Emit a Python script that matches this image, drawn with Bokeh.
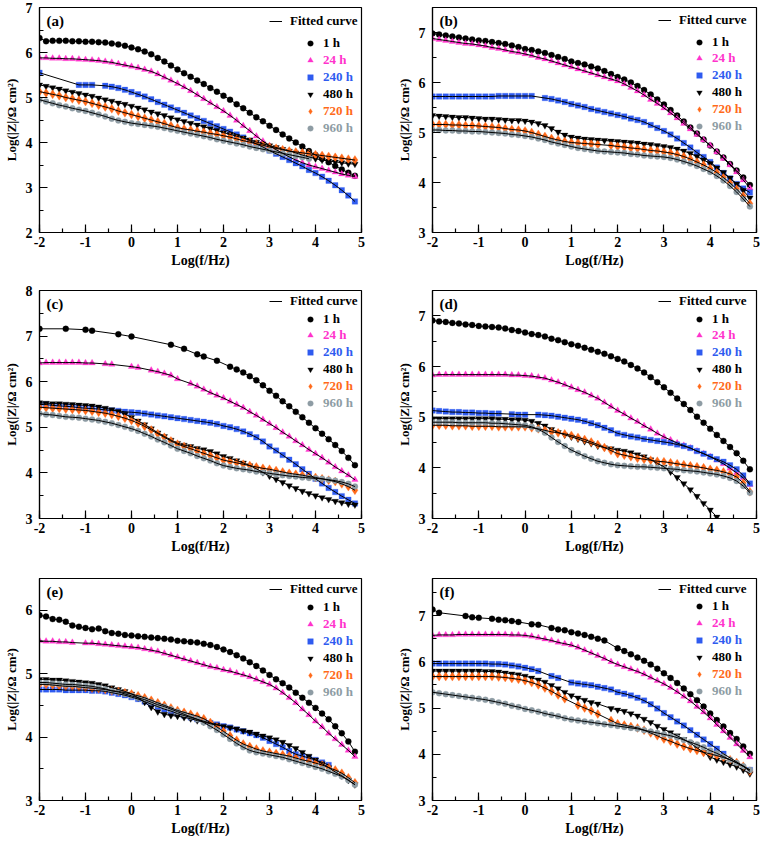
import numpy as np
from bokeh.plotting import figure
from bokeh.layouts import column, row
from bokeh.models import Legend, LegendItem, Label, SingleIntervalTicker, Range1d
from bokeh.embed import file_html
from bokeh.resources import INLINE

# log10 frequency grid (7 points per decade)
LOGF = [-2.0, -1.857, -1.714, -1.571, -1.429, -1.286, -1.143,
        -1.0, -0.857, -0.714, -0.571, -0.429, -0.286, -0.143,
        0.0, 0.143, 0.286, 0.429, 0.571, 0.714, 0.857,
        1.0, 1.143, 1.286, 1.429, 1.571, 1.714, 1.857,
        2.0, 2.143, 2.286, 2.429, 2.571, 2.714, 2.857,
        3.0, 3.143, 3.286, 3.429, 3.571, 3.714, 3.857,
        4.0, 4.143, 4.286, 4.429, 4.571, 4.714, 4.857]

SERIES = ["1 h", "24 h", "240 h", "480 h", "720 h", "960 h"]
COLORS = ["#000000", "#FF33CC", "#2F5BF0", "#000000", "#FF6A1A", "#8E9CA4"]
MARKERS = ["circle", "triangle", "square", "inverted_triangle", "diamond", "circle"]
SIZES = [6, 6.5, 5.5, 6.5, 9, 6]

# ---------------- panel (a) ----------------
A_1H = [6.32, 6.25, 6.26, 6.26, 6.26, 6.25, 6.25,
        6.24, 6.24, 6.23, 6.22, 6.20, 6.18, 6.15,
        6.11, 6.07, 6.02, 5.96, 5.88, 5.80, 5.71,
        5.62, 5.54, 5.46, 5.38, 5.30, 5.21, 5.13,
        5.04, 4.95, 4.85, 4.76, 4.66, 4.56, 4.47,
        4.37, 4.28, 4.18, 4.09, 4.00, 3.91, 3.81,
        3.72, 3.64, 3.56, 3.48, 3.40, 3.33, 3.26]
A_24H = [5.88, 5.88, 5.87, 5.87, 5.86, 5.86, 5.85,
         5.84, 5.83, 5.82, 5.80, 5.78, 5.75, 5.72,
         5.69, 5.66, 5.62, 5.58, 5.52, 5.45, 5.38,
         5.31, 5.23, 5.15, 5.06, 4.97, 4.88, 4.79,
         4.70, 4.60, 4.49, 4.37, 4.26, 4.14, 4.03,
         3.93, 3.84, 3.76, 3.68, 3.61, 3.55, 3.50,
         3.46, 3.42, 3.38, 3.34, 3.30, 3.27, 3.24]
A_240H = [5.55, None, None, None, None, None, 5.28,
          5.28, 5.28, None, 5.26, 5.24, 5.21, 5.17,
          5.12, 5.07, 5.02, 4.96, 4.90, 4.84, 4.78,
          4.72, 4.66, 4.60, 4.54, 4.48, 4.42, 4.36,
          4.30, 4.24, 4.18, 4.11, 4.04, 3.97, 3.90,
          3.82, 3.75, 3.68, 3.61, 3.54, 3.47, 3.39,
          3.32, 3.24, 3.15, 3.05, 2.94, 2.82, 2.69]
A_480H = [5.28, 5.25, 5.22, 5.19, 5.15, 5.12, 5.09,
          5.06, 5.03, 4.99, 4.95, 4.92, 4.88, 4.85,
          4.81, 4.77, 4.73, 4.68, 4.64, 4.60, 4.55,
          4.51, 4.47, 4.43, 4.39, 4.35, 4.31, 4.27,
          4.22, 4.18, 4.14, 4.10, 4.06, 4.01, 3.97,
          3.93, 3.89, 3.85, 3.81, 3.77, 3.72, 3.68,
          3.64, 3.61, 3.59, 3.57, 3.55, 3.53, 3.52]
A_720H = [5.13, 5.10, 5.07, 5.04, 5.00, 4.97, 4.94,
          4.91, 4.87, 4.83, 4.79, 4.75, 4.70, 4.66,
          4.62, 4.58, 4.54, 4.50, 4.46, 4.42, 4.37,
          4.33, 4.30, 4.28, 4.25, 4.23, 4.20, 4.18,
          4.15, 4.12, 4.08, 4.04, 4.01, 3.97, 3.94,
          3.90, 3.87, 3.84, 3.81, 3.79, 3.77, 3.75,
          3.73, 3.71, 3.69, 3.67, 3.65, 3.63, 3.61]
A_960H = [4.95, 4.91, 4.87, 4.83, 4.80, 4.76, 4.73,
          4.70, 4.66, 4.62, 4.58, 4.53, 4.49, 4.46,
          4.43, 4.41, 4.39, 4.37, 4.35, 4.32, 4.29,
          4.26, 4.23, 4.20, 4.17, 4.14, 4.11, 4.07,
          4.04, 4.01, 3.98, 3.95, 3.91, 3.88, 3.85,
          3.82, 3.79, 3.76, 3.73, 3.70, 3.67, 3.64,
          None, None, None, None, None, None, None]

# ---------------- panel (b) ----------------
B_1H = [6.98, 6.96, 6.94, 6.92, 6.90, 6.88, 6.86,
        6.84, 6.83, 6.81, 6.79, 6.77, 6.74, 6.71,
        6.67, 6.65, 6.62, 6.59, 6.55, 6.51, 6.47,
        6.42, 6.39, 6.36, 6.32, 6.28, 6.23, 6.17,
        6.11, 6.06, 6.00, 5.93, 5.85, 5.76, 5.66,
        5.56, 5.45, 5.34, 5.22, 5.10, 4.98, 4.86,
        4.74, 4.62, 4.50, 4.37, 4.24, 4.10, 3.95]
B_24H = [6.88, 6.86, 6.84, 6.82, 6.80, 6.78, 6.77,
         6.75, 6.73, 6.70, 6.68, 6.65, 6.62, 6.60,
         6.57, 6.54, 6.50, 6.47, 6.43, 6.39, 6.35,
         6.31, 6.27, 6.23, 6.19, 6.15, 6.11, 6.07,
         6.03, 5.97, 5.90, 5.83, 5.75, 5.66, 5.58,
         5.49, 5.39, 5.29, 5.18, 5.07, 4.96, 4.85,
         4.74, 4.61, 4.48, 4.35, 4.21, 4.05, 3.89]
B_240H = [5.72, 5.72, 5.72, 5.72, 5.72, 5.72, 5.72,
          5.72, 5.72, 5.72, 5.73, 5.73, 5.73, 5.73,
          5.73, 5.73, None, 5.69, 5.67, 5.64, 5.61,
          5.57, 5.54, 5.51, 5.47, 5.44, 5.41, 5.38,
          5.35, 5.32, 5.28, 5.25, 5.21, 5.15, 5.09,
          5.03, 4.96, 4.88, 4.79, 4.70, 4.60, 4.51,
          4.41, 4.30, 4.19, 4.08, 3.97, 3.88, 3.80]
B_480H = [5.34, 5.33, 5.32, 5.31, 5.30, 5.30, 5.29,
          5.28, 5.27, 5.27, 5.26, 5.25, 5.24, 5.24,
          5.23, 5.21, 5.18, 5.14, 5.08, 5.01, 4.95,
          4.91, 4.89, 4.87, 4.86, 4.85, 4.84, 4.83,
          4.82, 4.81, 4.80, 4.79, 4.77, 4.76, 4.74,
          4.72, 4.70, 4.67, 4.63, 4.58, 4.52, 4.45,
          4.38, 4.29, 4.20, 4.09, 3.97, 3.84, 3.69]
B_720H = [5.16, 5.16, 5.16, 5.15, 5.15, 5.14, 5.14,
          5.13, 5.12, 5.11, 5.10, 5.08, 5.06, 5.05,
          5.03, 5.00, 4.96, 4.92, 4.88, 4.85, 4.82,
          4.80, 4.79, 4.78, 4.77, 4.76, None, 4.74,
          4.72, 4.71, 4.69, 4.68, 4.66, 4.64, 4.63,
          4.61, 4.59, 4.56, 4.52, 4.47, 4.41, 4.35,
          4.28, 4.20, 4.10, 3.99, 3.87, 3.73, 3.58]
B_960H = [5.05, 5.05, 5.04, 5.04, 5.03, 5.03, 5.02,
          5.02, 5.01, 5.00, 4.99, 4.98, 4.96, 4.95,
          4.93, 4.91, 4.88, 4.85, 4.81, 4.78, 4.75,
          4.72, 4.69, 4.67, 4.65, 4.63, 4.62, 4.61,
          4.60, 4.59, 4.57, 4.56, 4.54, 4.53, 4.52,
          4.51, 4.49, 4.46, 4.42, 4.38, 4.33, 4.27,
          4.21, 4.13, 4.04, 3.93, 3.81, 3.67, 3.52]

# ---------------- panel (c) ----------------
C_1H = [7.16, None, None, None, 7.16, None, None,
        7.14, 7.12, None, None, None, 7.04, None,
        6.99, None, None, None, None, None, 6.81,
        None, 6.72, None, 6.60, 6.55, None, 6.46,
        None, 6.33, 6.27, 6.20, 6.12, 6.03, 5.92,
        5.80, 5.69, 5.57, 5.46, 5.34, 5.22, 5.10,
        4.98, 4.86, 4.74, 4.61, 4.48, 4.33, 4.17]
C_24H = [6.41, 6.42, 6.42, 6.42, 6.42, 6.42, 6.42,
         6.41, 6.41, None, 6.39, 6.38, None, None,
         6.33, 6.31, None, 6.25, 6.22, 6.18, 6.14,
         6.06, None, 5.96, 5.90, 5.83, 5.76, 5.70,
         5.64, 5.57, 5.50, 5.43, 5.34, 5.26, 5.17,
         5.08, 4.99, 4.89, 4.80, 4.70, 4.61, 4.51,
         4.42, 4.33, 4.23, 4.13, 4.04, 3.95, 3.85]
C_240H = [5.51, 5.50, 5.48, 5.47, 5.46, 5.45, 5.43,
          5.42, 5.41, 5.40, 5.38, 5.37, 5.36, 5.34,
          5.33, 5.32, 5.30, 5.28, 5.26, 5.24, 5.22,
          5.20, 5.18, 5.16, 5.14, 5.12, 5.10, 5.07,
          5.03, 5.00, 4.96, 4.91, 4.85, 4.78, 4.69,
          4.58, 4.49, 4.39, 4.29, 4.19, 4.08, 3.98,
          3.87, 3.77, 3.67, 3.58, 3.49, 3.41, 3.33]
C_480H = [5.54, 5.53, 5.52, 5.52, 5.51, 5.50, 5.49,
          5.48, 5.47, 5.45, 5.42, 5.39, 5.35, 5.29,
          5.22, 5.14, 5.06, 4.97, 4.88, 4.80, 4.72,
          4.65, 4.61, 4.58, 4.54, 4.51, 4.47, 4.42,
          4.36, 4.32, 4.27, 4.22, 4.16, 4.09, 4.01,
          3.93, 3.86, 3.79, 3.72, 3.66, 3.60, 3.55,
          3.50, 3.46, 3.42, 3.38, 3.35, 3.32, 3.30]
C_720H = [5.44, 5.43, 5.42, 5.41, 5.40, 5.39, 5.38,
          5.37, 5.35, 5.33, 5.31, 5.28, 5.24, 5.20,
          5.15, 5.09, 5.02, 4.94, 4.86, 4.78, 4.70,
          4.63, 4.58, 4.53, 4.48, 4.43, 4.38, 4.33,
          4.28, 4.25, 4.22, 4.19, 4.16, 4.13, 4.10,
          4.08, 4.05, 4.02, 3.99, 3.97, 3.95, 3.92,
          3.90, 3.87, 3.84, 3.81, 3.76, 3.70, 3.62]
C_960H = [5.30, 5.28, 5.27, 5.25, 5.23, 5.22, 5.21,
          5.19, 5.17, 5.15, 5.12, 5.09, 5.05, 5.01,
          4.97, 4.92, 4.86, 4.80, 4.73, 4.67, 4.60,
          4.53, 4.48, 4.43, 4.37, 4.32, 4.27, 4.21,
          4.16, 4.13, 4.10, 4.08, 4.06, 4.03, 4.01,
          3.99, 3.97, 3.95, 3.93, 3.92, 3.90, 3.89,
          3.88, 3.87, 3.85, 3.83, 3.80, 3.76, 3.70]

# ---------------- panel (d) ----------------
D_1H = [6.91, 6.89, 6.88, 6.86, 6.85, 6.83, 6.82,
        6.80, 6.79, 6.78, 6.77, 6.75, 6.72, 6.70,
        6.67, 6.64, 6.62, 6.59, 6.55, 6.52, 6.48,
        6.44, 6.41, 6.37, 6.33, 6.29, 6.25, 6.20,
        6.15, 6.10, 6.03, 5.96, 5.88, 5.79, 5.69,
        5.59, 5.48, 5.37, 5.26, 5.14, 5.01, 4.89,
        4.77, 4.65, 4.53, 4.41, 4.29, 4.14, 3.97]
D_24H = [5.83, 5.84, 5.84, 5.84, 5.84, 5.84, 5.84,
         5.84, 5.84, 5.84, 5.84, 5.84, 5.83, 5.83,
         5.82, 5.81, 5.79, 5.77, 5.73, 5.69, 5.64,
         5.59, 5.54, 5.49, 5.43, 5.37, 5.29, 5.21,
         5.13, 5.06, 4.98, 4.91, 4.83, 4.76, 4.68,
         4.61, 4.55, 4.49, 4.44, 4.39, 4.33, 4.28,
         4.22, 4.15, 4.08, 3.99, 3.90, 3.80, 3.67]
D_240H = [5.13, 5.12, 5.11, 5.10, 5.10, 5.09, 5.09,
          5.08, 5.08, 5.07, 5.07, None, 5.06, 5.05,
          5.05, None, 5.05, 5.04, 5.03, 5.01, 4.99,
          4.97, 4.95, 4.92, 4.88, 4.84, 4.79, 4.74,
          4.68, 4.65, 4.62, 4.60, 4.57, 4.55, 4.53,
          4.51, 4.49, 4.46, 4.43, 4.39, 4.33, 4.28,
          4.22, 4.17, 4.12, 4.05, 3.97, 3.85, 3.69]
D_480H = [4.97, 4.97, 4.97, 4.97, 4.97, 4.97, 4.97,
          4.97, 4.97, 4.97, 4.96, 4.96, 4.95, 4.95,
          4.94, 4.92, 4.88, 4.83, 4.76, 4.70, 4.65,
          4.61, 4.57, 4.52, 4.48, 4.43, 4.40, 4.38,
          4.35, 4.33, 4.30, 4.26, 4.22, 4.16, 4.09,
          4.02, 3.92, 3.81, 3.69, 3.57, 3.44, 3.30,
          3.17, 3.03, 2.88, 2.73, 2.58, 2.43, 2.28]
D_720H = [4.84, 4.84, 4.84, 4.83, 4.83, 4.83, 4.82,
          4.82, 4.82, 4.82, 4.81, 4.81, 4.81, 4.81,
          4.81, 4.79, 4.77, 4.74, 4.71, 4.69, 4.67,
          4.64, 4.60, 4.56, 4.51, 4.46, 4.40, 4.34,
          4.28, 4.25, 4.22, 4.19, 4.17, 4.15, 4.13,
          4.12, 4.10, 4.08, 4.06, 4.04, 4.02, 4.00,
          3.97, 3.95, 3.92, 3.88, 3.82, 3.70, 3.53]
D_960H = [4.90, 4.90, 4.90, 4.90, 4.89, 4.89, 4.89,
          4.89, 4.89, 4.88, 4.88, 4.87, 4.86, 4.85,
          4.84, 4.81, 4.76, 4.69, 4.60, 4.51, 4.43,
          4.35, 4.29, 4.23, 4.18, 4.13, 4.10, 4.07,
          4.05, 4.04, 4.03, 4.02, 4.02, 4.01, 4.00,
          3.99, 3.98, 3.97, 3.95, 3.94, 3.93, 3.91,
          3.89, 3.87, 3.84, 3.80, 3.74, 3.64, 3.51]

# ---------------- panel (e) ----------------
E_1H = [5.92, 5.90, 5.86, 5.85, 5.82, 5.76, 5.74,
        5.72, 5.70, 5.71, 5.67, 5.64, 5.63, 5.61,
        5.60, 5.59, 5.58, 5.57, 5.56, 5.55, 5.54,
        5.52, 5.51, 5.50, 5.49, 5.47, 5.45, 5.42,
        5.38, 5.34, 5.29, 5.24, 5.18, 5.12, 5.05,
        4.98, 4.91, 4.85, 4.78, 4.70, 4.62, 4.54,
        4.46, 4.37, 4.28, 4.17, 4.06, 3.93, 3.77]
E_24H = [5.52, 5.51, 5.51, 5.50, 5.50, 5.49, None,
         5.48, 5.48, 5.47, 5.46, 5.45, 5.44, 5.43,
         5.42, 5.41, 5.39, 5.37, 5.35, 5.32, 5.29,
         5.26, 5.23, 5.20, 5.17, 5.14, 5.11, 5.09,
         5.06, 5.04, 5.01, 4.98, 4.95, 4.91, 4.87,
         4.83, 4.77, 4.70, 4.62, 4.54, 4.44, 4.35,
         4.25, 4.16, 4.06, 3.97, 3.88, 3.79, 3.69]
E_240H = [4.75, 4.75, 4.75, 4.75, 4.74, 4.74, 4.74,
          4.74, 4.73, 4.73, 4.72, 4.70, 4.68, 4.66,
          4.63, 4.60, 4.56, 4.52, 4.48, 4.44, 4.41,
          4.37, 4.34, 4.31, 4.28, 4.25, 4.22, 4.20,
          4.17, 4.15, 4.12, 4.09, 4.06, 4.03, 3.99,
          3.94, 3.89, 3.84, 3.78, 3.73, 3.70, 3.67,
          3.64, 3.60, 3.56, None, None, None, None]
E_480H = [4.91, 4.91, 4.90, 4.90, 4.89, 4.88, 4.87,
          4.86, 4.85, 4.83, 4.81, 4.78, 4.75, 4.72,
          4.68, 4.62, 4.55, 4.47, 4.40, 4.36, 4.34,
          4.33, 4.31, 4.29, 4.26, 4.24, 4.21, 4.19,
          4.17, 4.15, 4.13, 4.10, 4.08, 4.05, 4.02,
          3.99, 3.96, 3.92, 3.87, 3.82, 3.76, 3.70,
          3.64, 3.58, 3.52, 3.45, 3.39, 3.32, 3.25]
E_720H = [4.83, 4.83, 4.82, 4.81, 4.80, 4.80, 4.79,
          4.78, 4.77, 4.76, 4.75, 4.73, 4.72, 4.70,
          4.68, 4.65, 4.62, 4.58, 4.54, 4.50, 4.46,
          4.42, 4.39, 4.36, 4.33, 4.29, 4.23, 4.16,
          4.09, 4.02, 3.95, 3.89, 3.85, 3.81, 3.78,
          3.76, 3.74, 3.72, 3.70, 3.67, 3.64, 3.62,
          3.59, 3.56, 3.52, 3.48, 3.43, 3.36, 3.28]
E_960H = [4.86, 4.86, 4.85, 4.84, 4.83, 4.83, 4.82,
          4.81, 4.80, 4.78, 4.76, 4.73, 4.71, 4.68,
          4.65, 4.62, 4.59, 4.55, 4.51, 4.48, 4.44,
          4.40, 4.36, 4.32, 4.28, 4.23, 4.17, 4.11,
          4.04, 3.97, 3.90, 3.84, 3.79, 3.76, 3.74,
          3.72, 3.70, 3.68, 3.65, 3.62, 3.59, 3.56,
          3.53, 3.50, 3.46, 3.42, 3.38, 3.32, 3.25]

# ---------------- panel (f) ----------------
F_1H = [7.13, 7.06, None, None, None, 6.99, 6.96,
        6.95, None, 6.93, 6.91, 6.90, 6.88, 6.86,
        None, 6.81, 6.80, None, 6.73, 6.70, 6.68,
        6.64, 6.61, 6.58, 6.54, 6.50, 6.46, None,
        6.29, 6.23, 6.16, 6.09, 6.02, 5.94, 5.85,
        5.75, 5.65, 5.54, 5.42, 5.30, 5.17, 5.03,
        4.88, 4.74, 4.60, 4.46, 4.33, 4.17, 4.01]
F_24H = [6.57, 6.58, 6.58, 6.58, 6.59, 6.59, 6.59,
         6.59, 6.59, 6.59, 6.59, 6.59, 6.58, 6.58,
         6.57, 6.55, 6.52, 6.49, 6.46, 6.42, 6.39,
         6.36, 6.31, 6.25, 6.19, 6.13, 6.07, 6.00,
         5.94, 5.89, 5.84, 5.79, 5.73, 5.66, 5.59,
         5.52, 5.44, 5.35, 5.25, 5.15, 5.03, 4.91,
         4.78, 4.64, 4.50, 4.36, 4.22, 4.08, 3.94]
F_240H = [5.96, 5.96, 5.96, 5.96, 5.96, 5.96, 5.96,
          5.96, 5.96, 5.95, 5.95, 5.94, 5.92, 5.90,
          5.87, 5.84, 5.80, None, 5.69, 5.65, None,
          5.55, 5.53, 5.51, 5.49, 5.46, 5.43, 5.40,
          5.34, 5.31, 5.27, 5.22, 5.16, 5.08, 4.99,
          4.89, 4.80, 4.71, 4.62, 4.52, 4.42, 4.32,
          4.22, 4.12, 4.01, None, None, None, 3.66]
F_480H = [5.80, 5.80, 5.80, 5.80, 5.80, 5.80, 5.80,
          5.80, 5.79, 5.79, 5.78, 5.76, 5.74, 5.72,
          5.69, 5.65, 5.61, 5.56, 5.49, 5.42, 5.34,
          5.27, 5.22, 5.17, 5.12, 5.09, None, 4.99,
          4.96, 4.93, 4.88, 4.83, 4.76, 4.69, 4.61,
          4.54, 4.47, 4.40, 4.32, 4.24, 4.14, 4.04,
          3.94, 3.88, 3.83, 3.78, 3.73, 3.66, 3.58]
F_720H = [5.68, 5.68, 5.68, 5.68, 5.68, 5.68, 5.68,
          5.68, 5.68, 5.68, 5.67, 5.66, 5.64, 5.62,
          5.59, 5.55, 5.50, 5.43, 5.36, 5.28, 5.20,
          None, 5.06, 5.00, 4.94, 4.87, None, 4.73,
          4.66, 4.63, 4.60, 4.57, 4.52, 4.46, 4.40,
          4.33, 4.28, 4.22, 4.17, 4.12, 4.08, 4.04,
          4.01, 3.97, 3.93, 3.88, 3.82, 3.74, 3.63]
F_960H = [5.34, 5.32, 5.30, 5.28, 5.26, 5.24, 5.22,
          5.20, 5.18, 5.15, 5.12, 5.09, 5.05, 5.02,
          4.98, 4.95, 4.92, 4.88, 4.85, 4.82, 4.78,
          4.75, 4.73, 4.71, 4.69, 4.67, 4.65, 4.63,
          4.61, 4.59, 4.57, 4.55, 4.52, 4.49, 4.46,
          4.43, 4.40, 4.36, 4.31, 4.26, 4.21, 4.15,
          4.08, 4.02, 3.95, 3.88, 3.81, 3.74, 3.66]

PANELS = [
    ("(a)", (2, 7), [A_1H, A_24H, A_240H, A_480H, A_720H, A_960H]),
    ("(b)", (3, 7.5), [B_1H, B_24H, B_240H, B_480H, B_720H, B_960H]),
    ("(c)", (3, 8), [C_1H, C_24H, C_240H, C_480H, C_720H, C_960H]),
    ("(d)", (3, 7.5), [D_1H, D_24H, D_240H, D_480H, D_720H, D_960H]),
    ("(e)", (3, 6.5), [E_1H, E_24H, E_240H, E_480H, E_720H, E_960H]),
    ("(f)", (3, 7.8), [F_1H, F_24H, F_240H, F_480H, F_720H, F_960H]),
]

# layout (pixels)
COL_W = [382, 378]
COL_BL = [33, 50]
COL_BR = [21, 4]
ROW_H = [276, 282, 282]
ROW_BT = [7, 14, 20]
ROW_BB = [44, 40, 40]
LEG_TOP = [(15, 37), (14, 35.5), (11.5, 29.5), (11.5, 29.5), (12, 30), (11.5, 29)]
LEG_STEP = 16.9

FONT = "Liberation Serif"
x = np.array(LOGF, dtype=float)


def make_panel(i):
    tag, (y0, y1), data = PANELS[i]
    r, c = divmod(i, 2)
    w, h = COL_W[c], ROW_H[r]
    fw = w - COL_BL[c] - COL_BR[c]
    fh = h - ROW_BT[r] - ROW_BB[r]
    p = figure(width=w, height=h, x_range=Range1d(-2, 5), y_range=Range1d(y0, y1),
               output_backend="svg", toolbar_location=None,
               min_border_left=COL_BL[c], min_border_right=COL_BR[c],
               min_border_top=ROW_BT[r], min_border_bottom=ROW_BB[r])
    p.grid.visible = False
    p.outline_line_color = "black"
    p.outline_line_width = 1.2
    p.background_fill_color = "white"
    p.border_fill_color = "white"
    for ax in (p.xaxis[0], p.yaxis[0]):
        ax.ticker = SingleIntervalTicker(interval=1, num_minor_ticks=2)
        ax.major_tick_in = 8
        ax.major_tick_out = 0
        ax.minor_tick_in = 4
        ax.minor_tick_out = 0
        ax.axis_line_color = "black"
        ax.axis_line_width = 1.2
        ax.major_tick_line_width = 1.2
        ax.minor_tick_line_width = 1.2
        ax.major_label_text_font = FONT
        ax.major_label_text_font_style = "bold"
        ax.major_label_text_font_size = "14px"
        ax.major_label_text_color = "black"
        ax.axis_label_text_font = FONT
        ax.axis_label_text_font_style = "bold"
        ax.axis_label_text_color = "black"
    p.xaxis.axis_label_text_font_size = "14px"
    p.yaxis.axis_label_text_font_size = "13px"
    p.xaxis.major_label_standoff = 4
    p.xaxis.axis_label_standoff = 3
    p.yaxis.major_label_standoff = 7
    p.yaxis.axis_label_standoff = 4
    p.xaxis.major_label_overrides = {-2: "-2", -1: "-1"}
    p.xaxis.axis_label = "Log(f/Hz)"
    p.yaxis.axis_label = "Log(|Z|/Ω cm²)"

    scat, lines = [], []
    for k in range(6):
        yv = np.array(data[k], dtype=float)
        sr = p.scatter(x, yv, marker=MARKERS[k], size=SIZES[k],
                       fill_color=COLORS[k], line_color=COLORS[k], line_width=0.3)
        scat.append(sr)
    for k in range(6):
        yv = np.array(data[k], dtype=float)
        m = ~np.isnan(yv)
        lr = p.line(x[m], yv[m], line_color="black", line_width=1)
        lines.append(lr)

    p.add_layout(Label(x=-2, y=y1, x_offset=7, y_offset=-5, text=tag,
                       text_baseline="top", text_font=FONT, text_font_style="bold",
                       text_font_size="15px", text_color="black"))

    t0, t1 = LEG_TOP[i]
    common = dict(padding=0, margin=0, spacing=0, border_line_alpha=0,
                  background_fill_alpha=0, glyph_height=14, label_height=14,
                  label_text_font=FONT, label_text_font_style="bold",
                  label_text_font_size="13px")
    p.add_layout(Legend(items=[LegendItem(label="Fitted curve", renderers=[lines[0]])],
                        location=(fw - 98, fh - t0 - 7), glyph_width=13,
                        label_standoff=8, label_text_color="black", **common), "center")
    for k in range(6):
        p.add_layout(Legend(items=[LegendItem(label=SERIES[k], renderers=[scat[k]])],
                            location=(fw - 64, fh - (t1 + LEG_STEP * k) - 7), glyph_width=14,
                            label_standoff=6, label_text_color=COLORS[k], **common), "center")
    return p


figs = [make_panel(i) for i in range(6)]
layout = column(row(figs[0], figs[1]), row(figs[2], figs[3]), row(figs[4], figs[5]))
open("out.html", "w").write(file_html(layout, INLINE))
